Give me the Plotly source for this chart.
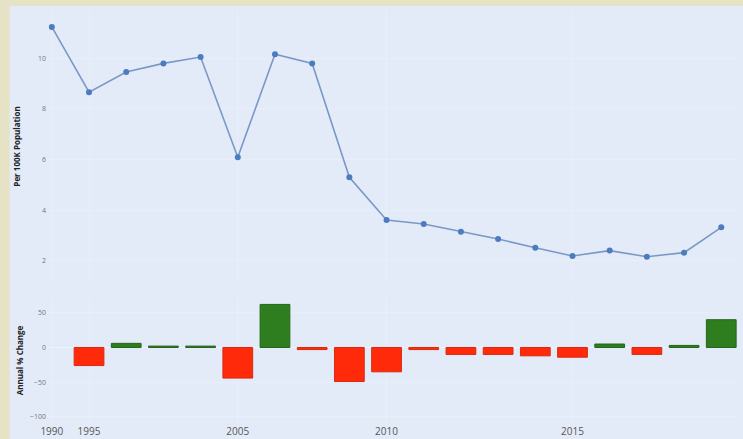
import plotly.graph_objects as go

# ---- data ----
rate_per_100k = [11.24, 8.66, 9.46, 9.80, 10.05, 6.09, 10.16, 9.80, 5.30, 3.61,
                 3.45, 3.15, 2.86, 2.51, 2.19, 2.40, 2.16, 2.32, 3.32]
annual_pct_change = [None, -26, 6, 2, 2, -44, 62, -3, -49, -35,
                     -3, -10, -10, -12, -14, 5, -10, 3, 40]
tick_index = [0, 1, 5, 9, 14]
tick_labels = ["1990", "1995", "2005", "2010", "2015"]

idx = list(range(len(rate_per_100k)))
bar_x = [i for i, v in zip(idx, annual_pct_change) if v is not None]
bar_y = [v for v in annual_pct_change if v is not None]
bar_fill = ["#2e7d1f" if v >= 0 else "#ff2a0a" for v in bar_y]
bar_edge = ["#25661a" if v >= 0 else "#d92a10" for v in bar_y]

BG = "#e4ebf8"
FRAME = "#e6e2c6"
GRID = "#e9eff9"

fig = go.Figure()
fig.add_trace(go.Scatter(
    x=idx, y=rate_per_100k, mode="lines+markers",
    line=dict(color="#7a98c6", width=1.6),
    marker=dict(color="#4c7cc0", size=6),
    xaxis="x", yaxis="y", showlegend=False))
fig.add_trace(go.Bar(
    x=bar_x, y=bar_y, width=0.8,
    marker=dict(color=bar_fill, line=dict(color=bar_edge, width=1)),
    xaxis="x2", yaxis="y2", showlegend=False))

xr = [-0.13, 18.45]
fig.update_layout(
    width=743, height=439,
    margin=dict(l=47, r=5, t=10, b=15, autoexpand=False),
    paper_bgcolor=FRAME, plot_bgcolor=BG,
    font=dict(family="Open Sans, DejaVu Sans, sans-serif"),
    xaxis=dict(domain=[0, 1], anchor="y", range=xr, showticklabels=False,
               tickvals=tick_index, showgrid=True, gridcolor=GRID,
               zeroline=False, automargin=False),
    xaxis2=dict(domain=[0, 1], anchor="y2", range=xr, tickvals=tick_index,
                ticktext=tick_labels, showgrid=True, gridcolor=GRID,
                zeroline=False, tickfont=dict(size=10, color="#555"),
                ticks="", automargin=False),
    yaxis=dict(domain=[0.3406, 1], range=[1.12, 11.91], tickvals=[2, 4, 6, 8, 10],
               showgrid=True, gridcolor=GRID, zeroline=False, automargin=False,
               tickfont=dict(size=7, color="#777"),
               title=dict(text="<b>Per 100K Population</b>", standoff=16,
                          font=dict(size=8, color="#222"))),
    yaxis2=dict(domain=[0, 0.3068], range=[-110.1, 72.7], tickvals=[-100, -50, 0, 50],
                showgrid=True, gridcolor=GRID, zeroline=True, automargin=False,
                zerolinecolor="#eef2fa", zerolinewidth=1,
                tickfont=dict(size=7, color="#777"),
                title=dict(text="<b>Annual % Change</b>", standoff=5,
                           font=dict(size=8, color="#222"))),
    shapes=[dict(type="rect", xref="paper", yref="paper",
                 x0=-0.054, x1=1.01, y0=-0.04, y1=1.0097,
                 fillcolor=BG, line=dict(width=0), layer="below")],
)

fig.write_html("out.html", config={"displayModeBar": False},
               post_script="document.body.style.margin='0';document.body.style.overflow='hidden';")
